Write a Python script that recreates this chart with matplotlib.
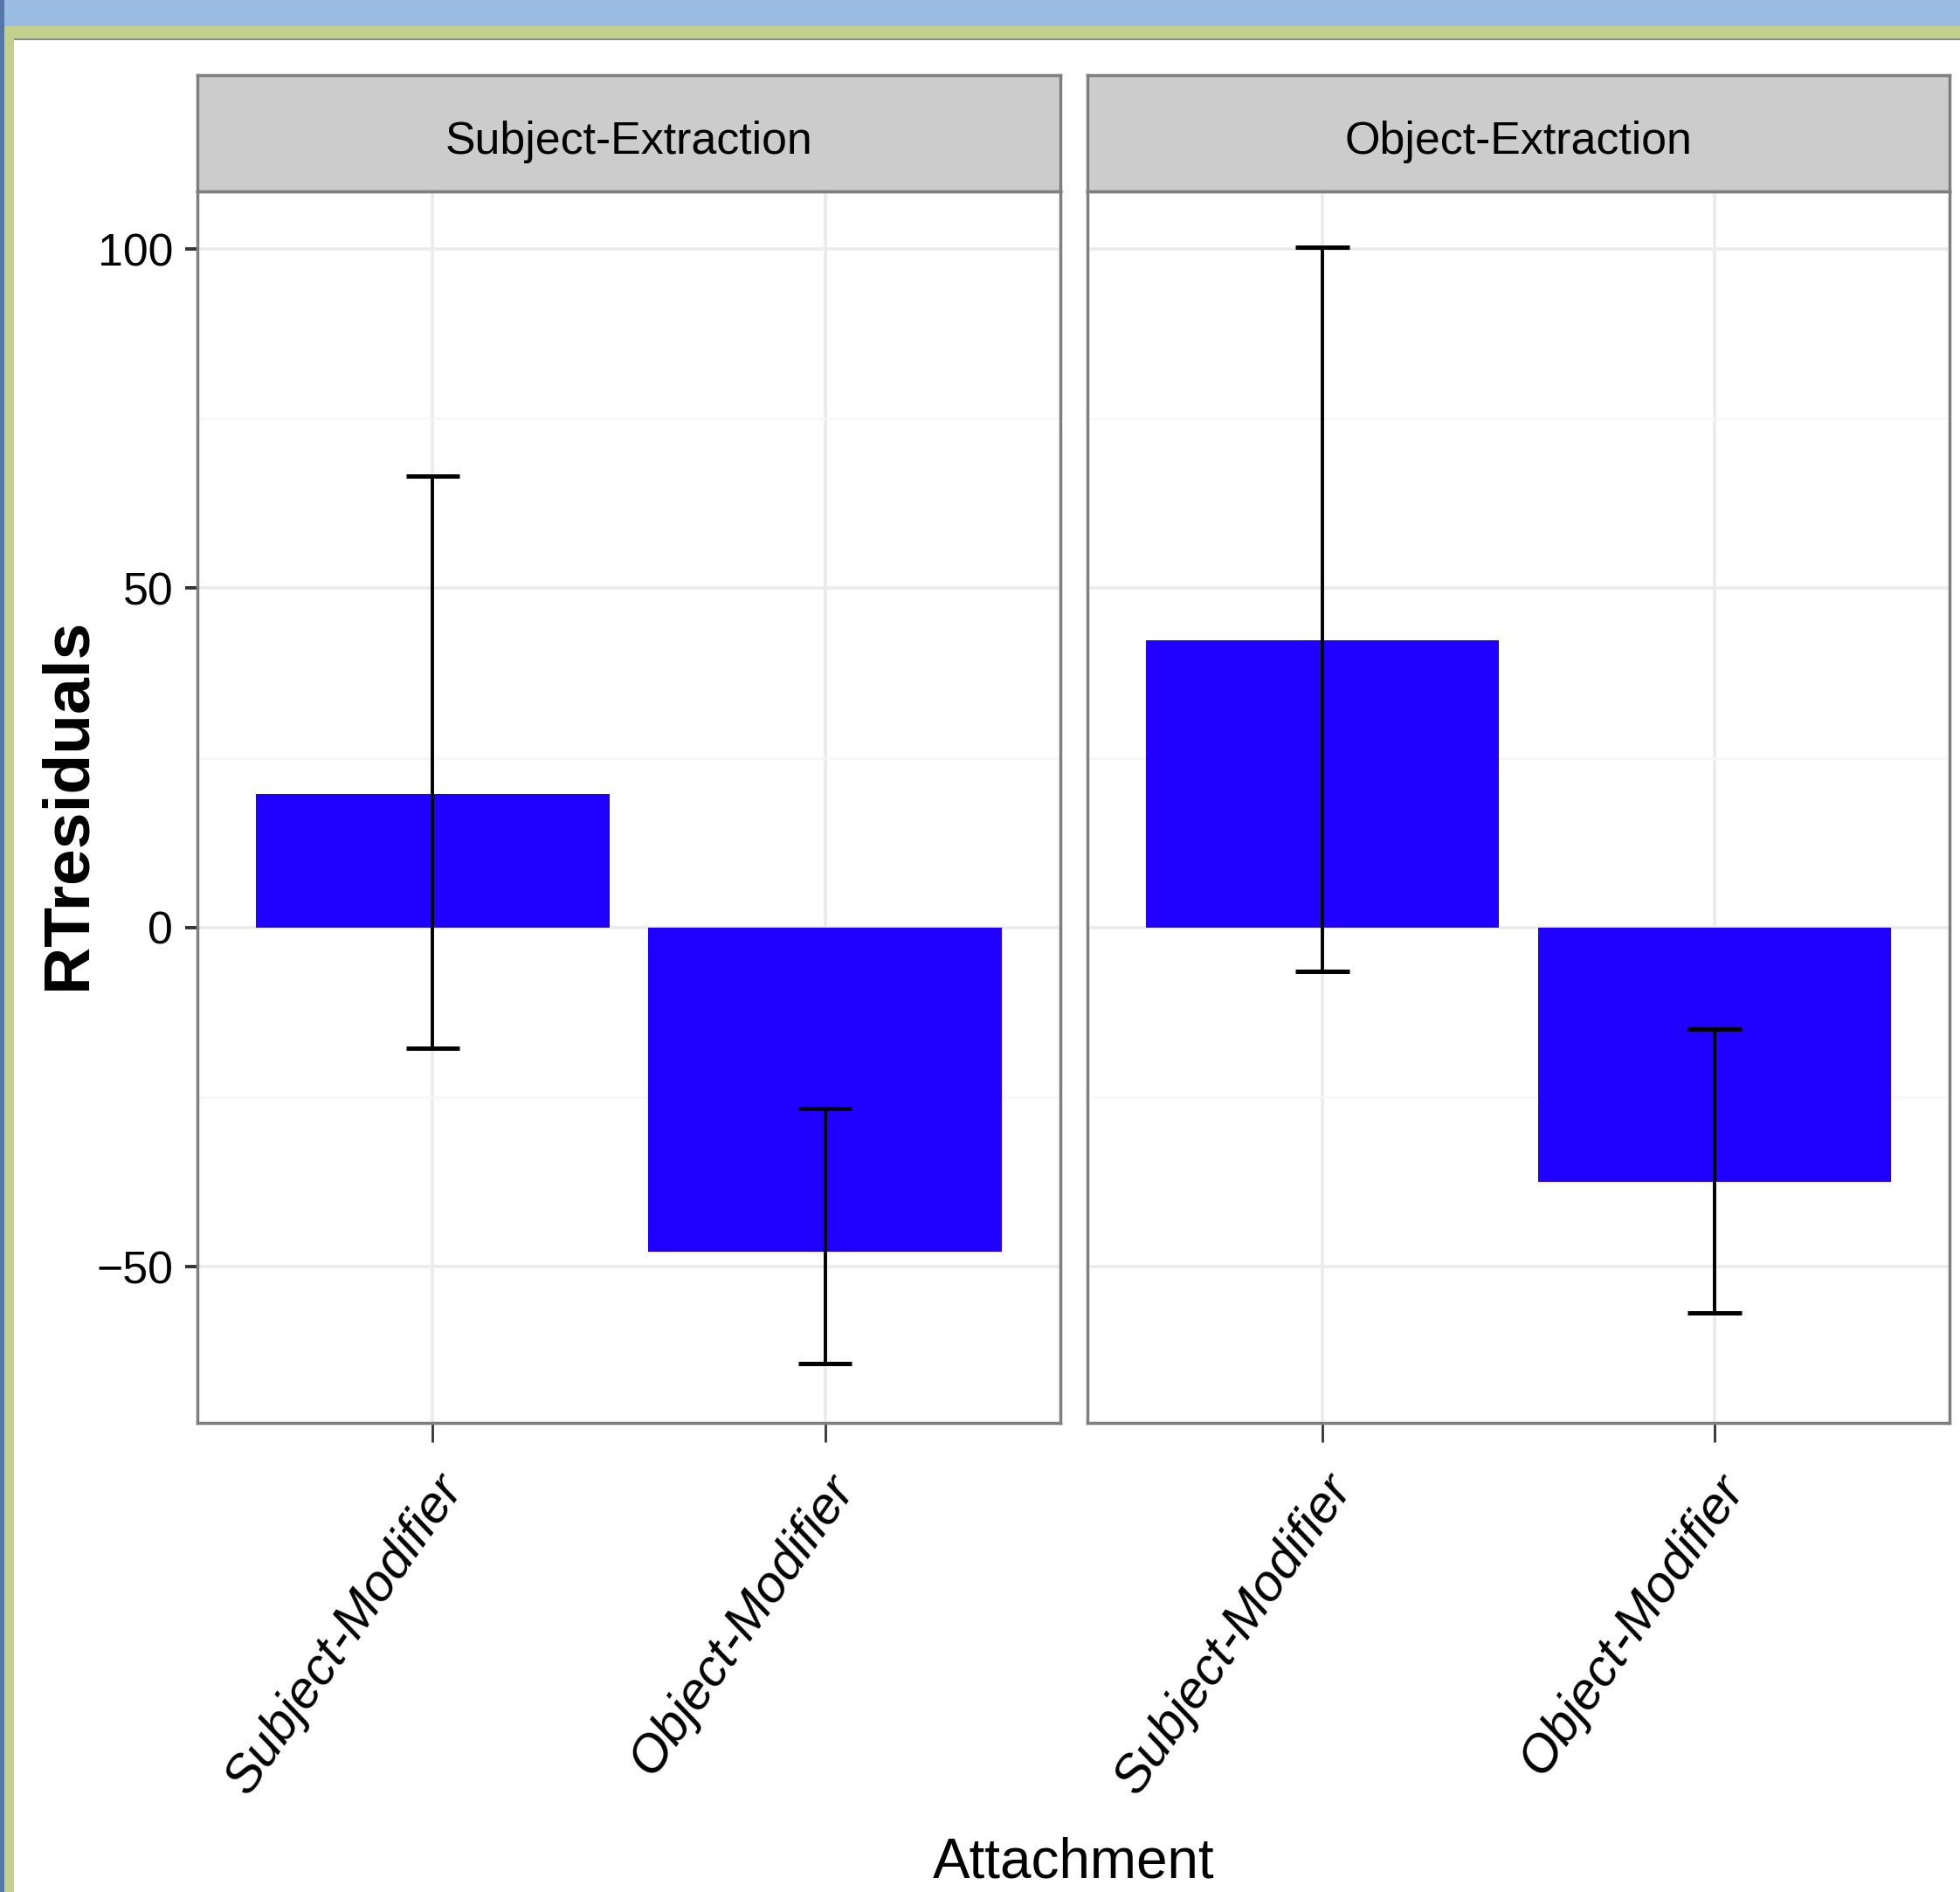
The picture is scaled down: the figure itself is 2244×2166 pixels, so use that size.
import matplotlib
matplotlib.use("Agg")
import matplotlib.pyplot as plt
from matplotlib import font_manager
from matplotlib.patches import Rectangle
from matplotlib.transforms import ScaledTranslation
import numpy as np

# ---------------- data ----------------
panels = ["Subject-Extraction", "Object-Extraction"]
categories = ["Subject-Modifier", "Object-Modifier"]

se_mean = [19.7, -47.8]
se_lower = [-17.8, -64.3]
se_upper = [66.5, -26.7]

oe_mean = [42.3, -37.5]
oe_lower = [-6.4, -56.8]
oe_upper = [100.2, -14.9]

y_ticks = [-50, 0, 50, 100]
y_minor = [-25, 25, 75]
y_label = "RTresiduals"
x_label = "Attachment"

panel_means = [se_mean, oe_mean]
panel_lower = [se_lower, oe_lower]
panel_upper = [se_upper, oe_upper]

# ---------------- fonts ----------------
names = {f.name for f in font_manager.fontManager.ttflist}
if "Liberation Sans Narrow" in names:
    narrow = "Liberation Sans Narrow"
    k = 1.0
else:
    narrow = "Liberation Sans"
    k = 0.85
plt.rcParams["font.family"] = [narrow, "DejaVu Sans"]

W, H = 2244, 2166
fig = plt.figure(figsize=(W / 100, H / 100), dpi=100)
fig.patch.set_facecolor("white")

def fx(px):
    return px / W

def fy(py):
    return 1 - py / H

# window frame decoration (screenshot border)
fig.add_artist(Rectangle((0, fy(30)), 1, 30 / H, transform=fig.transFigure,
                         facecolor="#9BBCE2", edgecolor="none", zorder=0))
fig.add_artist(Rectangle((0, fy(44)), 1, 14 / H, transform=fig.transFigure,
                         facecolor="#C3D08C", edgecolor="none", zorder=0))
fig.add_artist(Rectangle((0, fy(46)), 1, 2 / H, transform=fig.transFigure,
                         facecolor="#8A8A8A", edgecolor="none", zorder=0))
fig.add_artist(Rectangle((fx(5), 0), 11 / W, fy(44), transform=fig.transFigure,
                         facecolor="#C3D08C", edgecolor="none", zorder=0))
fig.add_artist(Rectangle((0, 0), 5 / W, 1, transform=fig.transFigure,
                         facecolor="#5577A8", edgecolor="none", zorder=0))

panel_x = [(226, 1214), (1245, 2232)]
top, bottom, strip_top = 219, 1629, 86
border = "#7F7F7F"
bar_color = "#1F00FF"
cap_half = 0.0685

x = np.arange(1, len(categories) + 1)

for i, (x0, x1) in enumerate(panel_x):
    ax = fig.add_axes([fx(x0), fy(bottom), (x1 - x0) / W, (bottom - top) / H])
    ax.set_facecolor("white")
    ax.set_axisbelow(True)

    ax.bar(x, panel_means[i], width=0.9, color=bar_color, zorder=2)
    ax.vlines(x, panel_lower[i], panel_upper[i], color="black", lw=2.8, zorder=3)
    ax.hlines(panel_lower[i], x - cap_half, x + cap_half, color="black", lw=3.6, zorder=3)
    ax.hlines(panel_upper[i], x - cap_half, x + cap_half, color="black", lw=3.6, zorder=3)

    ax.set_xlim(0.4, 2.6)
    ax.set_ylim(-73.0, 108.5)
    ax.set_yticks(y_ticks)
    ax.set_yticks(y_minor, minor=True)
    ax.set_xticks(x)
    ax.set_xticklabels(categories, rotation=55, ha="right", va="top",
                       rotation_mode="anchor", family="Liberation Sans",
                       style="italic", fontsize=43)
    for lbl in ax.get_xticklabels():
        lbl.set_transform(lbl.get_transform() +
                          ScaledTranslation(0.06, 0, fig.dpi_scale_trans))

    ax.grid(which="major", color="#EBEBEB", lw=2.6)
    ax.grid(which="minor", axis="y", color="#F6F6F6", lw=1.8)
    for s in ax.spines.values():
        s.set_color(border)
        s.set_linewidth(2.5)

    ax.tick_params(axis="x", length=16, width=2.0, color="#333333", pad=20,
                   labelcolor="black")
    ax.tick_params(axis="y", which="minor", length=0)
    if i == 0:
        ax.tick_params(axis="y", which="major", length=10, width=2.8,
                       color="#333333", pad=10, labelsize=44 * k,
                       labelcolor="black")
        ax.set_ylabel(y_label, family="Liberation Sans", fontweight="bold",
                      fontsize=54, color="black")
        ax.yaxis.label.set_va("baseline")
        ax.yaxis.set_label_coords((98 - x0) / (x1 - x0),
                                  (bottom - 920) / (bottom - top))
    else:
        ax.tick_params(axis="y", which="major", length=0, labelleft=False)

    sax = fig.add_axes([fx(x0), fy(top), (x1 - x0) / W, (top - strip_top) / H])
    sax.set_facecolor("#CCCCCC")
    sax.set_xticks([])
    sax.set_yticks([])
    for s in sax.spines.values():
        s.set_color(border)
        s.set_linewidth(2.5)
    sax.text(0.5, (top - 176) / (top - strip_top), panels[i], ha="center",
             va="baseline", fontsize=44 * k, color="black",
             transform=sax.transAxes)

fig.text(fx(1229), 4 / H, x_label, ha="center", va="bottom",
         fontsize=54 * k, color="black")

fig.savefig("out.png", dpi=100, facecolor="white")
